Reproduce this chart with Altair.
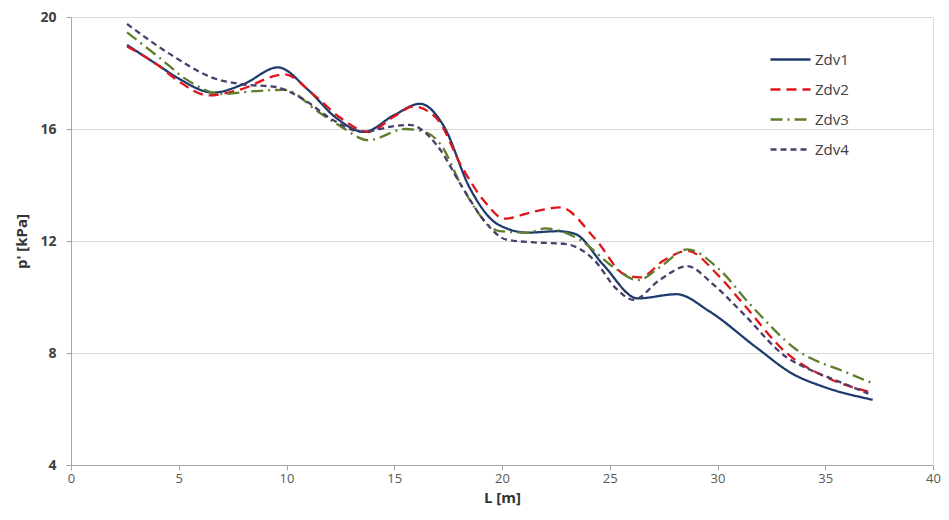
import altair as alt
import pandas as pd

series_names = ["Zdv1", "Zdv2", "Zdv3", "Zdv4"]

zdv1_x = [2.6, 4.0, 5.0, 6.6, 8.0, 9.6, 11.0, 12.3, 13.6, 15.0, 16.2, 17.3, 18.5, 19.8,
          21.2, 22.6, 23.4, 24.7, 26.3, 28.1, 29.6, 31.8, 33.5, 34.9, 37.2]
zdv1_y = [19.0, 18.3, 17.8, 17.3, 17.6, 18.2, 17.4, 16.4, 15.9, 16.5, 16.9, 16.1, 13.9, 12.6,
          12.3, 12.35, 12.25, 11.15, 9.95, 10.1, 9.5, 8.2, 7.25, 6.8, 6.33]

zdv2_x = [2.6, 4.0, 5.0, 6.4, 7.8, 9.9, 11.3, 12.5, 13.8, 15.0, 15.9, 17.0, 18.1, 19.2,
          20.1, 21.5, 22.7, 24.3, 25.7, 26.4, 27.5, 28.6, 30.0, 31.2, 33.2, 35.0, 37.1]
zdv2_y = [18.95, 18.3, 17.7, 17.2, 17.4, 17.95, 17.2, 16.4, 15.9, 16.45, 16.8, 16.35, 14.7, 13.4,
          12.8, 13.05, 13.2, 12.1, 10.8, 10.7, 11.3, 11.65, 10.8, 9.75, 8.0, 7.15, 6.6]

zdv3_x = [2.6, 4.1, 5.3, 7.0, 8.5, 9.9, 11.5, 12.5, 13.8, 15.5, 16.4, 17.2, 18.1, 19.9,
          21.2, 22.0, 23.6, 25.2, 26.3, 27.3, 28.6, 30.0, 31.5, 33.7, 36.0, 37.1]
zdv3_y = [19.45, 18.55, 17.8, 17.25, 17.35, 17.4, 16.6, 16.1, 15.6, 16.0, 15.9, 15.4, 14.0, 12.35,
          12.3, 12.45, 12.05, 11.05, 10.6, 11.05, 11.7, 11.05, 9.75, 8.1, 7.3, 6.95]

zdv4_x = [2.6, 4.85, 6.5, 7.9, 9.5, 10.7, 12.2, 13.5, 15.0, 15.7, 17.0, 18.1, 19.2, 20.2,
          21.5, 22.9, 24.3, 25.3, 26.1, 27.3, 28.6, 29.8, 31.2, 33.2, 34.3, 35.4, 37.0]
zdv4_y = [19.75, 18.55, 17.85, 17.6, 17.5, 17.1, 16.3, 15.9, 16.1, 16.15, 15.4, 14.0, 12.7, 12.05,
          11.95, 11.9, 11.3, 10.3, 9.9, 10.6, 11.1, 10.45, 9.4, 7.85, 7.4, 7.05, 6.55]

colors = ["#1F3B6E", "#E0151B", "#5F7E2C", "#4A3F6B"]
dashes = [[1, 0], [10, 6], [12, 5, 2, 5], [6, 4]]

xs = [zdv1_x, zdv2_x, zdv3_x, zdv4_x]
ys = [zdv1_y, zdv2_y, zdv3_y, zdv4_y]

frames = []
for name, xv, yv in zip(series_names, xs, ys):
    frames.append(pd.DataFrame({"L": xv, "p": yv, "series": name, "order": range(len(xv))}))
df = pd.concat(frames, ignore_index=True)

FONT = "Open Sans"

legend = alt.Legend(
    title=None, orient="none", legendX=698, legendY=21,
    symbolType="stroke", symbolSize=1600, symbolStrokeWidth=2.5,
    labelFontSize=15, labelColor="#404040", labelFont=FONT, rowPadding=-9,
    labelOffset=3,
)

chart = alt.Chart(df).mark_line(strokeWidth=2.3, interpolate="monotone").encode(
    x=alt.X("L:Q", title="L [m]",
            scale=alt.Scale(domain=[0, 40], nice=False),
            axis=alt.Axis(values=[0, 5, 10, 15, 20, 25, 30, 35, 40], grid=False,
                          domainColor="#A6A6A6", tickColor="#A6A6A6", tickSize=5,
                          labelFlush=False,
                          labelFontSize=13, labelColor="#595959", labelFont=FONT,
                          labelPadding=2, titleFontSize=15, titleFont=FONT,
                          titleFontWeight="bold", titleColor="#333333", titlePadding=5)),
    y=alt.Y("p:Q", title="p' [kPa]",
            scale=alt.Scale(domain=[4, 20], nice=False),
            axis=alt.Axis(values=[4, 8, 12, 16, 20], grid=True, gridColor="#D9D9D9",
                          domainColor="#A6A6A6", tickColor="#A6A6A6", tickSize=5,
                          labelFontSize=14, labelColor="#404040", labelFont=FONT,
                          labelFontWeight="bold", labelPadding=10,
                          titleFontSize=15, titleFont=FONT, titleFontWeight="bold",
                          titleColor="#333333", titlePadding=10)),
    color=alt.Color("series:N", scale=alt.Scale(domain=series_names, range=colors), legend=legend),
    strokeDash=alt.StrokeDash("series:N", scale=alt.Scale(domain=series_names, range=dashes), legend=legend),
    order="order:Q",
).properties(
    width=862, height=448, autosize="none",
    padding={"left": 63, "top": 9, "right": 8, "bottom": 43},
).configure_view(stroke=None).configure(background="white")

chart.save("out.html", embed_options={"renderer": "svg", "actions": False})
